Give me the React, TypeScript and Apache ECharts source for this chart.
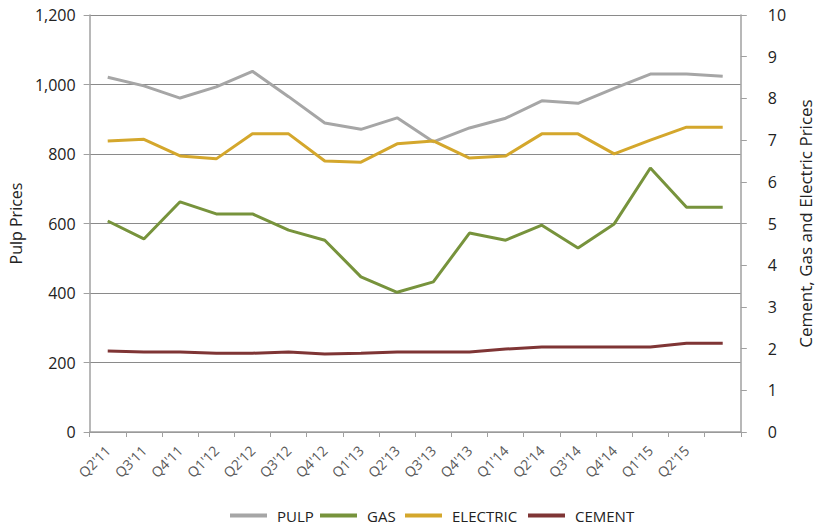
import React, { useEffect, useRef } from "react";
import * as echarts from "echarts";

const categories = [
  "Q2'11", "Q3'11", "Q4'11", "Q1'12", "Q2'12", "Q3'12", "Q4'12", "Q1'13", "Q2'13",
  "Q3'13", "Q4'13", "Q1'14", "Q2'14", "Q3'14", "Q4'14", "Q1'15", "Q2'15", "",
];
const pulp = [1021, 996, 961, 993, 1038, 965, 889, 871, 904, 835, 875, 903, 953, 946, 989, 1030, 1030, 1024];
const gas = [5.06, 4.63, 5.52, 5.23, 5.23, 4.84, 4.6, 3.72, 3.35, 3.6, 4.77, 4.6, 4.96, 4.41, 4.99, 6.33, 5.39, 5.39];
const electric = [6.98, 7.02, 6.62, 6.55, 7.15, 7.15, 6.5, 6.47, 6.91, 6.98, 6.57, 6.62, 7.15, 7.15, 6.67, 7.0, 7.31, 7.31];
const cement = [1.94, 1.92, 1.92, 1.89, 1.89, 1.92, 1.87, 1.89, 1.92, 1.92, 1.92, 1.99, 2.04, 2.04, 2.04, 2.04, 2.13, 2.13];

const seriesNames = ["PULP", "GAS", "ELECTRIC", "CEMENT"];
const seriesColors = ["#a6a6a6", "#77933c", "#d4a72c", "#7f3535"];

const FONT = "Open Sans";

export default function App() {
  const ref = useRef<HTMLDivElement>(null);
  useEffect(() => {
    if (!ref.current) return;
    const chart = echarts.init(ref.current, null, { renderer: "svg" });
    const lineSeries = (name: string, data: number[], color: string, yAxisIndex: number) => ({
      name,
      type: "line",
      data,
      yAxisIndex,
      symbol: "none",
      lineStyle: { color, width: 3 },
      itemStyle: { color },
    });
    const legendLefts = [230, 320, 405, 528];
    chart.setOption({
      animation: false,
      backgroundColor: "#ffffff",
      grid: { left: 87, right: 65, top: 15, bottom: 99 },
      legend: seriesNames.map((n, i) => ({
        data: [n],
        left: legendLefts[i],
        top: 508,
        padding: 0,
        icon: "rect",
        itemWidth: 37,
        itemHeight: 4,
        textStyle: { fontFamily: FONT, fontSize: 15, color: "#222", padding: [0, 0, 0, 5] },
      })),
      xAxis: {
        type: "category",
        data: categories,
        boundaryGap: true,
        axisLine: { lineStyle: { color: "#a0a0a0", width: 1.5 } },
        axisTick: { show: true, length: 5, lineStyle: { color: "#a0a0a0" } },
        axisLabel: {
          interval: 0,
          rotate: 45,
          fontFamily: FONT,
          fontSize: 14,
          color: "#595959",
          margin: 16,
        },
      },
      yAxis: [
        {
          type: "value",
          min: 0,
          max: 1200,
          interval: 200,
          position: "left",
          name: "Pulp Prices",
          nameLocation: "middle",
          nameRotate: 90,
          nameGap: 61,
          nameTextStyle: { fontFamily: FONT, fontSize: 16, color: "#222" },
          axisLine: { show: true, lineStyle: { color: "#a0a0a0", width: 1.5 } },
          axisTick: { show: true, length: 6, lineStyle: { color: "#a0a0a0" } },
          axisLabel: {
            fontFamily: FONT,
            fontSize: 16,
            color: "#222",
            margin: 14,
            formatter: (v: number) => v.toLocaleString("en-US"),
          },
          splitLine: { show: true, lineStyle: { color: "#8a8a8a", width: 1 } },
        },
        {
          type: "value",
          min: 0,
          max: 10,
          interval: 1,
          position: "right",
          name: "Cement, Gas and Electric Prices",
          nameLocation: "middle",
          nameRotate: 90,
          nameGap: 47,
          nameTextStyle: { fontFamily: FONT, fontSize: 17, color: "#222" },
          axisLine: { show: true, lineStyle: { color: "#a0a0a0", width: 1.5 } },
          axisTick: { show: true, length: 6, lineStyle: { color: "#a0a0a0" } },
          axisLabel: { fontFamily: FONT, fontSize: 16, color: "#222", margin: 27 },
          splitLine: { show: false },
        },
      ],
      series: seriesNames.map((n, i) =>
        lineSeries(n, [pulp, gas, electric, cement][i], seriesColors[i], i === 0 ? 0 : 1)
      ),
    });
    return () => chart.dispose();
  }, []);
  return (
    <div
      ref={ref}
      style={{ position: "fixed", left: 0, top: 0, width: 822, height: 531, background: "#fff" }}
    />
  );
}
